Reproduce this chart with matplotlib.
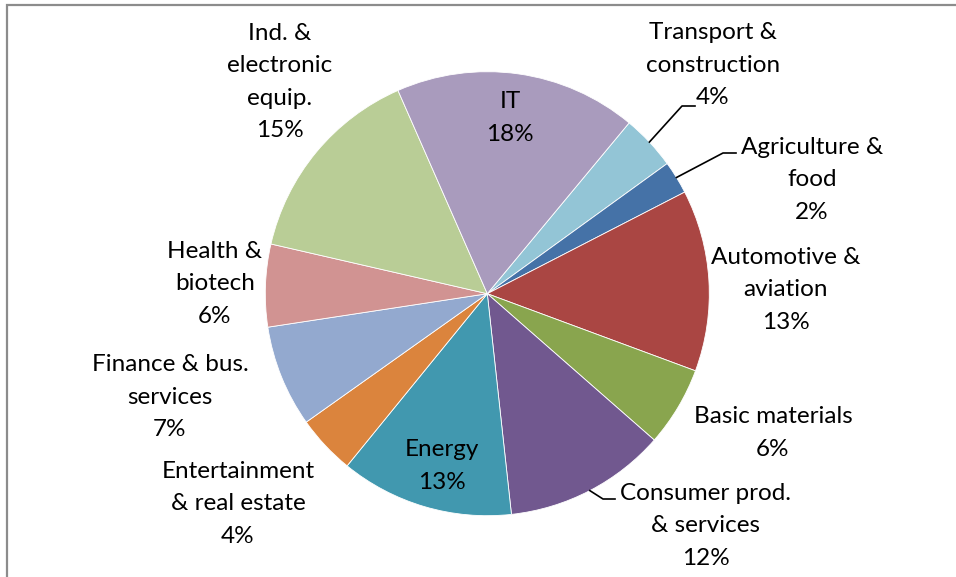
import numpy as np
import matplotlib.pyplot as plt
from matplotlib.patches import Rectangle

plt.rcParams["font.family"] = ["Lato", "DejaVu Sans"]

sectors = ["Transport &\nconstruction", "Agriculture &\nfood", "Automotive &\naviation",
           "Basic materials", "Consumer prod.\n& services", "Energy",
           "Entertainment\n& real estate", "Finance & bus.\nservices", "Health &\nbiotech",
           "Ind. &\nelectronic\nequip.", "IT"]
shares = [4.0, 2.4, 13.2, 5.8, 11.8, 12.6, 4.3, 7.4, 6.0, 14.8, 17.6]
colors = ["#93C5D6", "#4572A7", "#AA4643", "#89A54E", "#71588F", "#4198AF",
          "#DB843D", "#93A9CF", "#D19392", "#B9CD96", "#A99BBD"]

W, H = 956, 577
# label centres in pixel coords (x, y from top)
label_pos = [(713, 65), (812, 180), (786, 290), (773, 433), (706, 526), (442, 466),
             (238, 504), (170, 397), (215, 284), (280, 82), (510, 118)]
# leader lines: elbow and end points (pixels)
leaders = {0: [(682, 106), (695, 106)], 1: [(723, 153), (736, 153)],
           4: [(603, 499), (615, 499)]}

fig = plt.figure(figsize=(W / 100, H / 100), dpi=100)
ax = fig.add_axes([0, 0, 1, 1])

cx, cy, r = 487.3, H - 293.7, 222
wedges, _ = ax.pie(shares, colors=colors, startangle=50.3, counterclock=False,
                   center=(cx, cy), radius=r, frame=True,
                   wedgeprops=dict(edgecolor="white", linewidth=0.6))
ax.set_xlim(0, W)
ax.set_ylim(0, H)
ax.set_aspect("equal")
ax.axis("off")

for i, (name, val) in enumerate(zip(sectors, shares)):
    x, y = label_pos[i]
    ax.text(x, H - y, f"{name}\n{round(val)}%", ha="center", va="center",
            fontsize=17.5, linespacing=1.66, color="black")
    if i in leaders:
        w = wedges[i]
        mid = np.deg2rad((w.theta1 + w.theta2) / 2)
        pts = [(cx + r * np.cos(mid), cy + r * np.sin(mid))]
        pts += [(px, H - py) for px, py in leaders[i]]
        xs, ys = zip(*pts)
        ax.plot(xs, ys, color="black", lw=1.2)

ax.add_patch(Rectangle((7, -20), W + 20, H - 5 + 20, fill=False,
                       edgecolor="#8c8c8c", lw=1.6, clip_on=False))

fig.savefig("out.png", dpi=100)
